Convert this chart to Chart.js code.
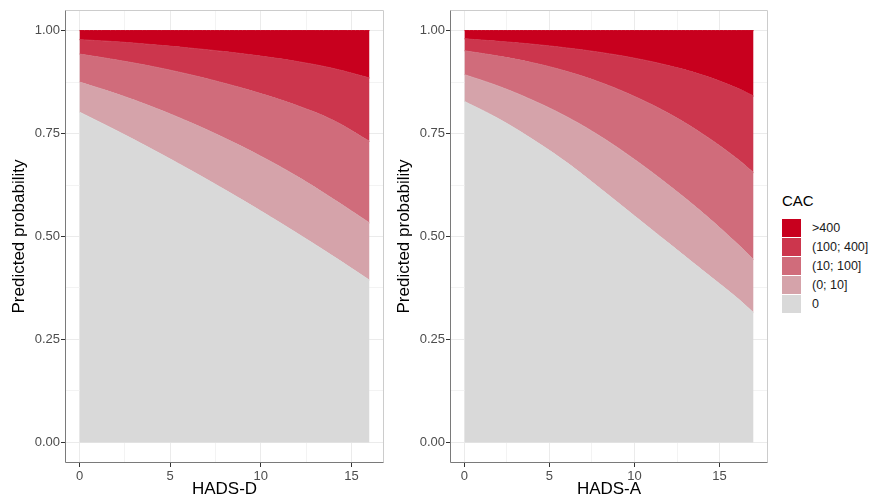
<!DOCTYPE html>
<html>
<head>
<meta charset="utf-8">
<script src="https://cdn.jsdelivr.net/npm/chart.js@4"></script>
<style>
  body { margin: 0; background: #fff; font-family: "Liberation Sans", Arial, sans-serif; }
  #wrap { position: relative; width: 872px; height: 500px; overflow: hidden; }
  #left { position: absolute; left: 0; top: 0; }
  #right { position: absolute; left: 390px; top: 0; }
  #legend { position: absolute; left: 782px; top: 192px; }
  .lg-title { font-size: 15px; line-height: 17px; margin-bottom: 9px; color: #000; }
  .lg-row { display: flex; align-items: center; height: 19px; }
  .lg-key { width: 19px; height: 18px; }
  .lg-text { margin-left: 11px; font-size: 12.5px; color: #1a1a1a; }
</style>
</head>
<body>
<div id="wrap">
  <canvas id="left" width="390" height="500"></canvas>
  <canvas id="right" width="385" height="500"></canvas>
  <div id="legend"></div>
</div>
<script>
// CAC categories, bottom to top
const cacLevels = ['0', '(0; 10]', '(10; 100]', '(100; 400]', '>400'];
const cacColors = ['#D9D9D9', '#D5A3AA', '#D06C7B', '#CC364D', '#C8001E'];

// HADS-D: cumulative predicted probability (upper edge of each band)
const hadsD    = [0, 2, 4, 6, 8, 10, 12, 14, 16];
const dZero    = [0.802, 0.758, 0.712, 0.664, 0.614, 0.562, 0.508, 0.452, 0.394];
const dUpTo10  = [0.875, 0.847, 0.815, 0.779, 0.739, 0.695, 0.646, 0.591, 0.533];
const dUpTo100 = [0.943, 0.929, 0.913, 0.894, 0.872, 0.847, 0.818, 0.782, 0.731];
const dUpTo400 = [0.978, 0.973, 0.966, 0.958, 0.949, 0.938, 0.925, 0.908, 0.885];

// HADS-A
const hadsA    = [0, 2, 4, 6, 8, 10, 12, 14, 16, 17];
const aZero    = [0.828, 0.786, 0.736, 0.680, 0.616, 0.550, 0.484, 0.418, 0.352, 0.315];
const aUpTo10  = [0.893, 0.865, 0.831, 0.791, 0.743, 0.687, 0.625, 0.558, 0.484, 0.444];
const aUpTo100 = [0.951, 0.938, 0.922, 0.901, 0.874, 0.840, 0.799, 0.749, 0.690, 0.655];
const aUpTo400 = [0.980, 0.974, 0.967, 0.958, 0.947, 0.933, 0.915, 0.892, 0.861, 0.841];

const yTicks = [0, 0.25, 0.5, 0.75, 1];
const yMinor = [0.125, 0.375, 0.625, 0.875];
const xTicks = [0, 5, 10, 15];
const xMinor = [2.5, 7.5, 12.5];

function tickList(major, minor) {
  return major.map(v => ({ value: v }))
    .concat(minor.map(v => ({ value: v, minor: true })))
    .sort((a, b) => a.value - b.value);
}

const gridOpts = {
  color: c => (c.tick && c.tick.minor) ? '#F3F3F3' : '#EBEBEB',
  tickColor: c => (c.tick && c.tick.minor) ? 'rgba(0,0,0,0)' : '#333333',
  tickLength: 4,
  lineWidth: 1
};

// panel frame: light top/right, darker axis lines
const panelFrame = {
  id: 'panelFrame',
  afterDraw(chart) {
    const { ctx, chartArea: a } = chart;
    const l = Math.round(a.left) + 0.5, r = Math.round(a.right) - 0.5;
    const t = Math.round(a.top) + 0.5, b = Math.round(a.bottom) - 0.5;
    ctx.save();
    ctx.lineWidth = 1;
    ctx.strokeStyle = '#CCCCCC';
    ctx.beginPath();
    ctx.moveTo(l, t); ctx.lineTo(r, t); ctx.lineTo(r, b);
    ctx.stroke();
    ctx.strokeStyle = '#7A7A7A';
    ctx.beginPath();
    ctx.moveTo(l, t); ctx.lineTo(l, b); ctx.lineTo(r, b);
    ctx.stroke();
    ctx.restore();
  }
};

function makePanel(id, xs, edges, xMax, xTitle, yWidth, yTitlePad, padRight) {
  const expand = xMax * 0.05;
  const datasets = edges.map((vals, i) => ({
    label: cacLevels[i],
    data: xs.map((x, j) => ({ x: x, y: vals[j] })),
    backgroundColor: cacColors[i],
    borderColor: cacColors[i],
    borderWidth: 1,
    pointRadius: 0,
    tension: 0.4,
    fill: i === 0 ? 'origin' : '-1'
  }));

  return new Chart(document.getElementById(id), {
    type: 'line',
    data: { datasets },
    options: {
      responsive: false,
      animation: false,
      layout: { padding: { top: 10, right: padRight, left: 0, bottom: 0 } },
      plugins: { legend: { display: false }, tooltip: { enabled: false } },
      scales: {
        x: {
          type: 'linear',
          min: -expand,
          max: xMax + expand,
          afterBuildTicks: s => { s.ticks = tickList(xTicks, xMinor); },
          afterFit: s => { s.height = 37; },
          grid: gridOpts,
          border: { display: false },
          ticks: {
            autoSkip: false,
            maxRotation: 0,
            padding: 2,
            color: '#4D4D4D',
            font: { family: 'Liberation Sans', size: 13 },
            callback: (v, i, t) => t[i].minor ? '' : String(v)
          },
          title: {
            display: true,
            text: xTitle,
            color: '#000',
            font: { family: 'Liberation Sans', size: 17 },
            padding: { top: 0, bottom: 0 }
          }
        },
        y: {
          type: 'linear',
          min: -0.05,
          max: 1.05,
          afterBuildTicks: s => { s.ticks = tickList(yTicks, yMinor); },
          afterFit: s => { s.width = yWidth; },
          grid: gridOpts,
          border: { display: false },
          ticks: {
            autoSkip: false,
            padding: 1,
            color: '#4D4D4D',
            font: { family: 'Liberation Sans', size: 13 },
            callback: (v, i, t) => t[i].minor ? '' : Number(v).toFixed(2)
          },
          title: {
            display: true,
            text: 'Predicted probability',
            color: '#000',
            font: { family: 'Liberation Sans', size: 17 },
            padding: { top: yTitlePad, bottom: 0 }
          }
        }
      }
    },
    plugins: [panelFrame]
  });
}

const ones = xs => xs.map(() => 1);

makePanel('left', hadsD, [dZero, dUpTo10, dUpTo100, dUpTo400, ones(hadsD)], 16, 'HADS-D', 65, 9, 6);
makePanel('right', hadsA, [aZero, aUpTo10, aUpTo100, aUpTo400, ones(hadsA)], 17, 'HADS-A', 60, 4, 7);

// legend, highest category first
const legend = document.getElementById('legend');
legend.innerHTML = '<div class="lg-title">CAC</div>' +
  cacLevels.map((lab, i) => ({ lab, col: cacColors[i] })).reverse()
    .map(o => `<div class="lg-row"><div class="lg-key" style="background:${o.col}"></div><span class="lg-text">${o.lab}</span></div>`)
    .join('');
</script>
</body>
</html>
